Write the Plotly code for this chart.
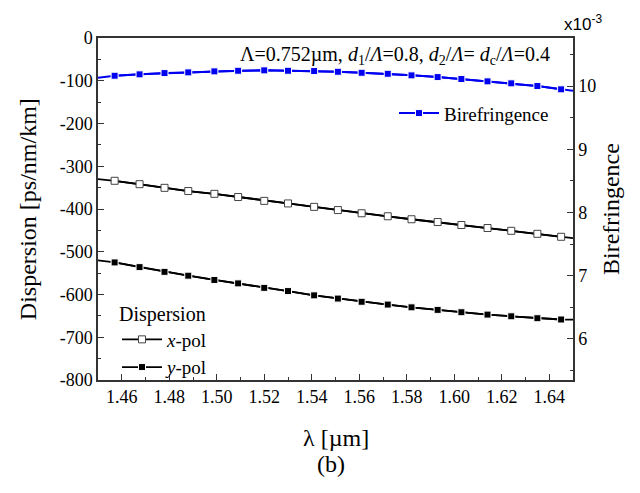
import plotly.graph_objects as go

# ---- data ----
wl = [1.457, 1.4675, 1.478, 1.488, 1.499, 1.509, 1.520, 1.530, 1.541, 1.551,
      1.561, 1.572, 1.582, 1.593, 1.603, 1.614, 1.624, 1.635, 1.645]
wl_edge = [1.45, 1.65]

disp_x = [-334, -342, -350.5, -358, -364.5, -372, -381, -387, -395, -402.5,
          -410, -417, -424, -430.5, -437.5, -444.5, -451, -458, -465]
disp_x_edge = [-330, -468]

disp_y = [-525, -536, -547, -556, -566, -574, -584.5, -592, -602, -609.5,
          -617, -623.5, -630, -636, -641.5, -647, -651, -655.5, -658.5]
disp_y_edge = [-520, -659]

biref = [10.163, 10.185, 10.205, 10.216, 10.232, 10.242, 10.248, 10.242, 10.237, 10.226,
         10.210, 10.194, 10.169, 10.142, 10.111, 10.074, 10.043, 10.000, 9.948]
biref_edge = [10.13, 9.925]

x_ticks = [1.46, 1.48, 1.50, 1.52, 1.54, 1.56, 1.58, 1.60, 1.62, 1.64]
y_ticks = [0, -100, -200, -300, -400, -500, -600, -700, -800]
y2_ticks = [6, 7, 8, 9, 10]

SERIF = "Liberation Serif"
BLUE = "#0000F0"

fig = go.Figure()

def add_series(xm, ym, xe, ye, name, color, mcolor, mline, yaxis, legend, lw):
    xs = [xe[0]] + xm + [xe[1]]
    ys = [ye[0]] + ym + [ye[1]]
    fig.add_trace(go.Scatter(x=xs, y=ys, mode="lines", yaxis=yaxis,
                             line=dict(color=color, width=lw),
                             showlegend=False, hoverinfo="skip"))
    fig.add_trace(go.Scatter(x=xm, y=ym, mode="lines+markers", yaxis=yaxis, name=name,
                             line=dict(color=color, width=lw),
                             marker=dict(symbol="square", size=7, color=mcolor,
                                         line=dict(color=mline, width=1)),
                             legend=legend))

add_series(wl, disp_x, wl_edge, disp_x_edge, "<i>x</i>-pol", "black", "white", "#444444", "y", "legend", 1.8)
add_series(wl, disp_y, wl_edge, disp_y_edge, "<i>y</i>-pol", "black", "black", "white", "y", "legend", 1.8)
add_series(wl, biref, wl_edge, biref_edge, "Birefringence", BLUE, BLUE, "white", "y2", "legend2", 2)

tickfont = dict(family=SERIF, size=18, color="black")

fig.update_layout(
    width=640, height=493,
    margin=dict(l=98, r=66.5, t=37.5, b=113),
    paper_bgcolor="white", plot_bgcolor="white",
    font=dict(family=SERIF, size=18, color="black"),
    showlegend=True,
    xaxis=dict(range=[1.45, 1.65], tickvals=x_ticks,
               ticktext=[f"{v:.2f}" for v in x_ticks],
               ticks="inside", ticklen=6, tickwidth=1.2, tickcolor="#333",
               minor=dict(dtick=0.01, tick0=1.45, ticks="inside", ticklen=3, tickcolor="#333"),
               showline=True, linecolor="#333", linewidth=1.5, mirror=True,
               showgrid=False, zeroline=False, tickfont=tickfont),
    yaxis=dict(range=[-800, 0], tickvals=y_ticks, ticktext=[str(v) for v in y_ticks],
               ticks="inside", ticklen=6, tickwidth=1.2, tickcolor="#333",
               minor=dict(dtick=50, tick0=0, ticks="inside", ticklen=3, tickcolor="#333"),
               showline=True, linecolor="#333", linewidth=1.5,
               showgrid=False, zeroline=False, tickfont=tickfont),
    yaxis2=dict(range=[5.35, 10.76], overlaying="y", side="right",
                tickvals=y2_ticks, ticktext=[str(v) for v in y2_ticks],
                ticks="inside", ticklen=6, tickwidth=1.2, tickcolor="#333",
                minor=dict(dtick=0.5, tick0=6, ticks="inside", ticklen=3, tickcolor="#333"),
                showline=True, linecolor="#333", linewidth=1.5,
                showgrid=False, zeroline=False, tickfont=tickfont),
    legend=dict(x=0.04, y=0.25, xanchor="left", yanchor="top",
                bgcolor="rgba(0,0,0,0)", borderwidth=0,
                title=dict(text="Dispersion", font=dict(family=SERIF, size=20, color="black")),
                font=dict(family=SERIF, size=19, color="black"),
                tracegroupgap=0, itemwidth=40),
    legend2=dict(x=0.96, y=0.78, xanchor="right", yanchor="middle",
                 bgcolor="rgba(0,0,0,0)", borderwidth=0,
                 font=dict(family=SERIF, size=19, color="black"), itemwidth=40),
)

ann = [
    dict(text="Λ=0.752µm, <i>d</i><sub>1</sub>/<i>Λ</i>=0.8, <i>d</i><sub>2</sub>/<i>Λ</i>= <i>d</i><sub>c</sub>/<i>Λ</i>=0.4",
         xref="paper", yref="paper", x=0.955, y=0.95, xanchor="right", yanchor="middle",
         showarrow=False, font=dict(family=SERIF, size=20, color="black")),
    dict(text="x10<sup>-3</sup>", xref="paper", yref="paper", x=1.02, y=1.045,
         xanchor="center", yanchor="middle", showarrow=False,
         font=dict(family="Liberation Sans", size=17, color="black")),
    dict(text="Dispersion [ps/nm/km]", xref="paper", yref="paper", x=-0.147, y=0.5,
         xanchor="center", yanchor="middle", textangle=-90, showarrow=False,
         font=dict(family=SERIF, size=24, color="black")),
    dict(text="Birefringence", xref="paper", yref="paper", x=1.08, y=0.5,
         xanchor="center", yanchor="middle", textangle=-90, showarrow=False,
         font=dict(family=SERIF, size=24, color="black")),
    dict(text="λ [µm]", xref="paper", yref="paper", x=0.5, y=-0.17,
         xanchor="center", yanchor="middle", showarrow=False,
         font=dict(family=SERIF, size=24, color="black")),
    dict(text="(b)", xref="paper", yref="paper", x=0.49, y=-0.245,
         xanchor="center", yanchor="middle", showarrow=False,
         font=dict(family=SERIF, size=24, color="black")),
]
fig.update_layout(annotations=ann)

fig.write_html("out.html", config={"displayModeBar": False},
               post_script="document.body.style.margin='0';")
